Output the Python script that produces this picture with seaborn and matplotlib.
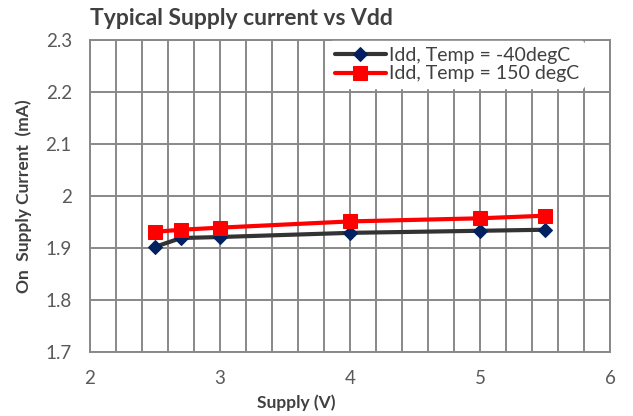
import pandas as pd
import matplotlib.pyplot as plt
import seaborn as sns
from matplotlib.ticker import MultipleLocator

# Values
supply_v = [2.5, 2.7, 3.0, 4.0, 5.0, 5.5]
idd_cold = [1.902, 1.919, 1.921, 1.929, 1.933, 1.935]
idd_hot = [1.931, 1.935, 1.939, 1.951, 1.957, 1.962]
label_cold = "Idd, Temp = -40degC"
label_hot = "Idd, Temp = 150 degC"

sns.set_style("white")
plt.rcParams['font.family'] = ['Lato', 'DejaVu Sans']

fig = plt.figure(figsize=(6.33, 4.16), dpi=100)
ax = fig.add_axes([0.142, 0.154, 0.822, 0.75])

df = pd.DataFrame({'Supply': supply_v, 'cold': idd_cold, 'hot': idd_hot})

sns.lineplot(data=df, x='Supply', y='cold', ax=ax, color='#333333', lw=3,
             marker='D', markersize=7, markerfacecolor='#002060',
             markeredgecolor='#002060', label=label_cold, zorder=3)
sns.lineplot(data=df, x='Supply', y='hot', ax=ax, color='#ff0000', lw=3,
             marker='s', markersize=10, markerfacecolor='#ff0000',
             markeredgecolor='#ff0000', label=label_hot, zorder=4)

ax.set_xlim(2, 6)
ax.set_ylim(1.7, 2.3)
ax.xaxis.set_major_locator(MultipleLocator(1))
ax.xaxis.set_minor_locator(MultipleLocator(0.2))
ax.yaxis.set_major_locator(MultipleLocator(0.1))
ax.set_yticklabels([f"{v:g}" for v in ax.get_yticks()])

ax.grid(True, which='both', axis='x', color='#888888', lw=1.4)
ax.grid(True, which='major', axis='y', color='#888888', lw=1.4)
ax.set_axisbelow(True)
for s in ax.spines.values():
    s.set_color('#888888')
    s.set_linewidth(1.4)

ax.tick_params(axis='both', which='both', length=0, labelsize=13.5,
               labelcolor='#595959')
ax.tick_params(axis='x', pad=13)
ax.tick_params(axis='y', pad=13)

ax.set_xlabel('Supply (V)', fontsize=12.5, fontweight='bold', color='#404040', labelpad=4)
ax.xaxis.set_label_coords(0.396, -0.135)
ax.set_ylabel('On  Supply Current  (mA)', fontsize=12.5, fontweight='bold',
              color='#404040', labelpad=10)

leg = ax.legend(loc='upper right', bbox_to_anchor=(0.958, 1.01), frameon=True,
                fontsize=14, handlelength=2.6, handletextpad=0.15,
                borderaxespad=0.2, labelspacing=0.1, borderpad=0.3)
leg.get_frame().set_facecolor('white')
leg.get_frame().set_edgecolor('white')
leg.get_frame().set_alpha(1)
for t in leg.get_texts():
    t.set_color('#404040')

fig.text(0.142, 0.955, 'Typical Supply current vs Vdd', fontsize=16.5,
         fontweight='bold', color='#404040', ha='left', va='center')

fig.savefig('out.png', dpi=100)
